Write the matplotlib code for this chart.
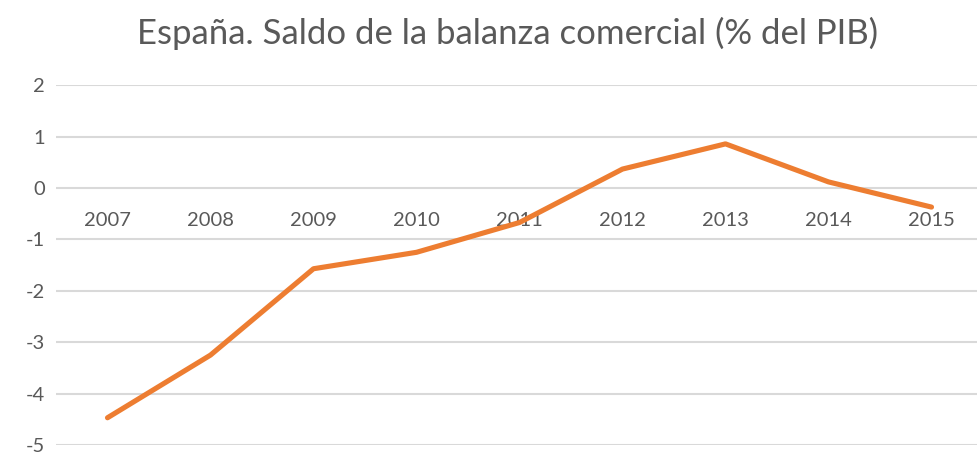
import matplotlib
matplotlib.use('Agg')
import matplotlib.pyplot as plt

# datos: saldo de la balanza comercial, % del PIB
years = ['2007', '2008', '2009', '2010', '2011', '2012', '2013', '2014', '2015']
saldo = [-4.47, -3.25, -1.57, -1.25, -0.67, 0.37, 0.86, 0.12, -0.37]
yticks = [-5, -4, -3, -2, -1, 0, 1, 2]

plt.rcParams['font.family'] = ['Lato', 'DejaVu Sans']

W, H = 977, 455
fig = plt.figure(figsize=(W / 100, H / 100), dpi=100)
left, right = 56, 983
top, bottom = 85.3, 445
ax = fig.add_axes([left / W, (H - bottom) / H, (right - left) / W, (bottom - top) / H])

x = list(range(len(years)))
ax.plot(x, saldo, color='#ED7D31', lw=3.7, solid_capstyle='round', solid_joinstyle='round', zorder=3)

ax.set_xlim(-0.5, len(years) - 0.5)
ax.set_ylim(-5, 2)
ax.set_yticks(yticks)
ax.set_yticklabels([str(v) for v in yticks])
ax.yaxis.grid(True, color='#D9D9D9', lw=1.5)
ax.set_axisbelow(True)

ax.set_xticks(x)
ax.set_xticklabels(years)
for s in ['top', 'right', 'left']:
    ax.spines[s].set_visible(False)
ax.spines['bottom'].set_position(('data', 0))
ax.spines['bottom'].set_visible(False)
ax.tick_params(axis='x', length=0, pad=17, labelsize=14.5, labelcolor='#595959')
ax.tick_params(axis='y', length=0, pad=8, labelsize=14.5, labelcolor='#595959')

fig.text(508 / W, 1 - 33 / H, 'España. Saldo de la balanza comercial (% del PIB)',
         ha='center', va='center', fontsize=25, color='#595959')

fig.savefig('out.png', dpi=100)
